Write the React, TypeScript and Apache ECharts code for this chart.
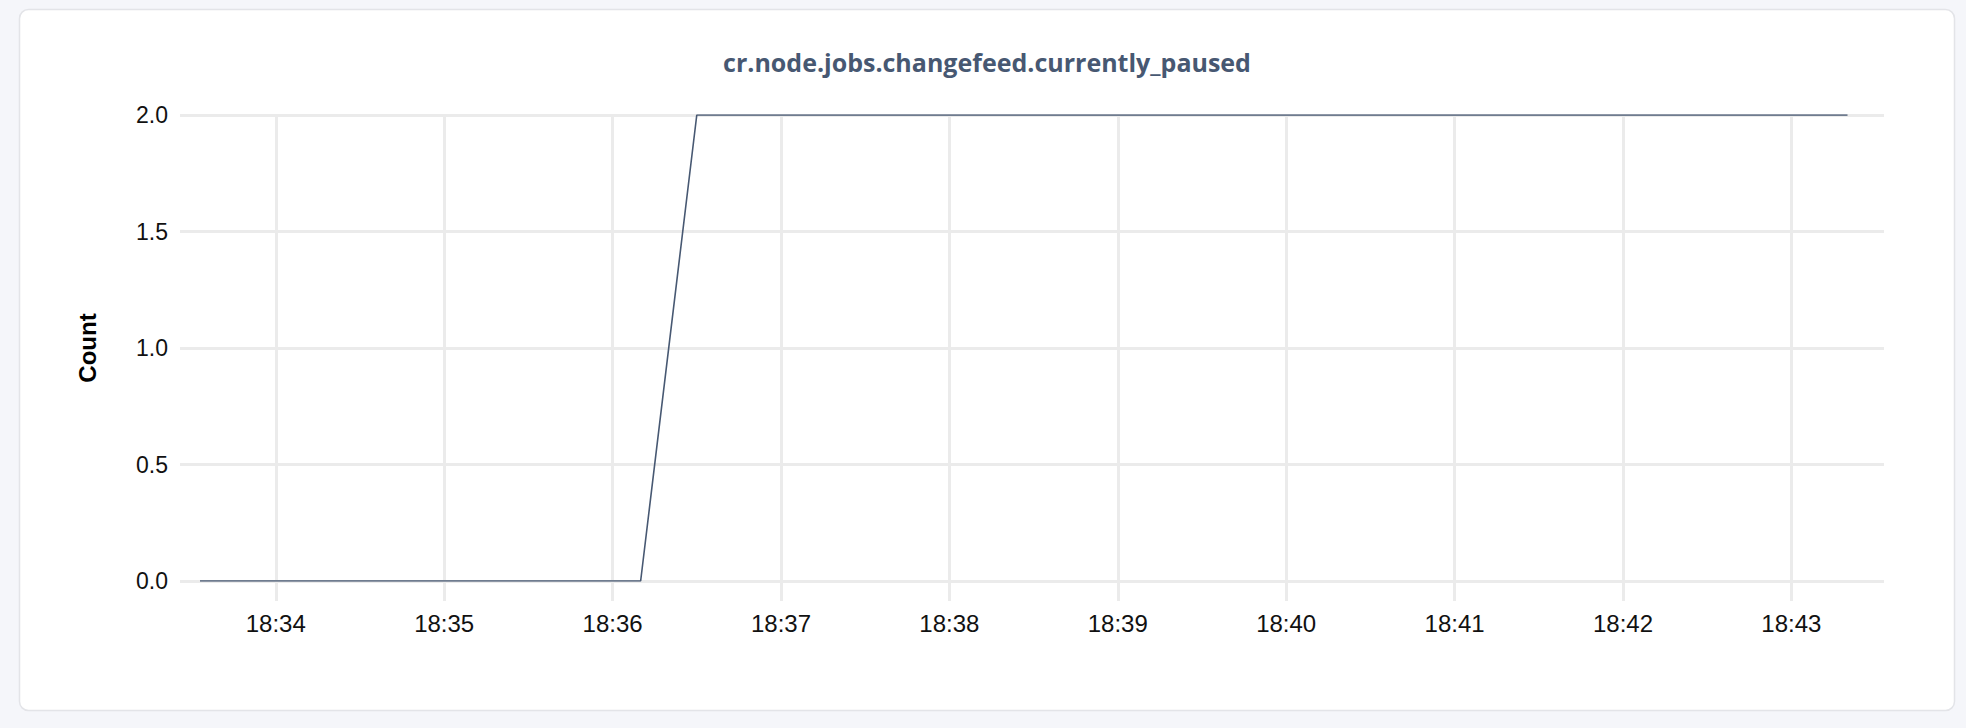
import React, { useEffect, useRef } from "react";
import * as echarts from "echarts";

const chartTitle = "cr.node.jobs.changefeed.currently_paused";
const yAxisName = "Count";
const sampleTimes = ["18:33:33", "18:36:10", "18:36:30", "18:43:20"];
const sampleValues = [0, 0, 2, 2];
const axisStart = "18:33:33";
const axisEnd = "18:43:33";
const xTickLabels = ["18:34", "18:35", "18:36", "18:37", "18:38", "18:39", "18:40", "18:41", "18:42", "18:43"];
const yTicks = [0, 0.5, 1, 1.5, 2];

const toMs = (hms: string) => {
  const [h, m, s] = hms.split(":").map(Number);
  return new Date(2024, 0, 15, h, m, s || 0).getTime();
};
const pad = (n: number) => (n < 10 ? "0" + n : "" + n);

export default function App() {
  const ref = useRef<HTMLDivElement>(null);
  useEffect(() => {
    if (!ref.current) return;
    const chart = echarts.init(ref.current, undefined, { renderer: "svg" });
    const gridColor = "#ebebeb";
    const font = "'Liberation Sans', Arial, Helvetica, sans-serif";
    const xTickValues = xTickLabels.map(toMs);
    chart.setOption({
      animation: false,
      backgroundColor: "#f5f6fa",
      graphic: [
        {
          type: "rect",
          shape: { x: 19.5, y: 9.5, width: 1935, height: 701, r: 9 },
          style: { fill: "#ffffff", stroke: "#e3e4e8", lineWidth: 1.5 },
          z: -10,
          silent: true,
        },
        {
          type: "text",
          x: 987,
          y: 62,
          style: {
            text: chartTitle,
            fill: "#475872",
            font: "bold 25px 'Open Sans', 'Noto Sans', sans-serif",
            align: "center",
            verticalAlign: "middle",
          },
        },
        {
          type: "text",
          x: 87,
          y: 348,
          rotation: Math.PI / 2,
          style: {
            text: yAxisName,
            fill: "#000000",
            font: "bold 24px 'Liberation Sans', Arial, sans-serif",
            align: "center",
            verticalAlign: "middle",
          },
        },
      ],
      grid: { left: 200, right: 1966 - 1884, top: 115, bottom: 728 - 581, containLabel: false },
      xAxis: {
        type: "value",
        min: toMs(axisStart),
        max: toMs(axisEnd),
        axisLine: { show: false },
        axisTick: {
          show: true,
          length: 20,
          customValues: xTickValues,
          lineStyle: { color: gridColor, width: 3 },
        },
        splitLine: { show: true, showMinLine: true, showMaxLine: true, lineStyle: { color: gridColor, width: 3 } },
        axisLabel: {
          show: true,
          margin: 30,
          color: "#111111",
          fontSize: 24,
          fontFamily: font,
          customValues: xTickValues,
          showMinLabel: true,
          showMaxLabel: true,
          hideOverlap: false,
          formatter: (v: number) => {
            const d = new Date(v);
            return pad(d.getHours()) + ":" + pad(d.getMinutes());
          },
        },
      },
      yAxis: {
        type: "value",
        min: yTicks[0],
        max: yTicks[yTicks.length - 1],
        interval: yTicks[1] - yTicks[0],
        axisLine: { show: false },
        axisTick: { show: true, length: 20, lineStyle: { color: gridColor, width: 3 } },
        splitLine: { show: true, lineStyle: { color: gridColor, width: 3 } },
        axisLabel: {
          margin: 32,
          color: "#111111",
          fontSize: 23,
          fontFamily: font,
          formatter: (v: number) => v.toFixed(1),
        },
      },
      series: [
        {
          type: "line",
          data: sampleTimes.map((t, i) => [toMs(t), sampleValues[i]]),
          showSymbol: false,
          symbol: "none",
          lineStyle: { color: "#475872", width: 1.6 },
          itemStyle: { color: "#475872" },
          z: 5,
        },
      ],
    });
    return () => chart.dispose();
  }, []);
  return (
    <div
      ref={ref}
      style={{ position: "fixed", left: 0, top: 0, width: 1966, height: 728 }}
    />
  );
}
